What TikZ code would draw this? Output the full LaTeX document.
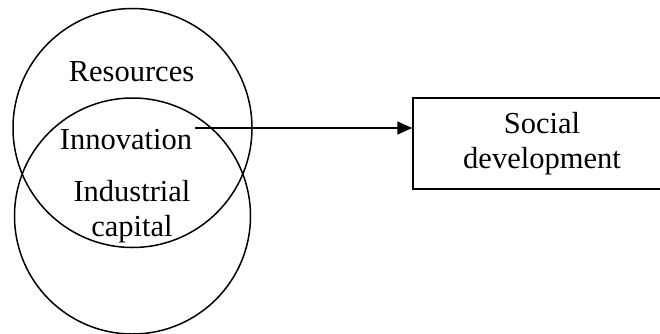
\documentclass[tikz,border=0pt]{standalone}
\usepackage{fontspec}
\setmainfont{Liberation Serif}
\usetikzlibrary{arrows.meta}

\tikzset{%
        ring/.style={
                circle,
                draw,
                line width=1.5pt
            },
        label/.style={
                align=center,
                inner sep=0pt,
                font=\fontsize{30.5pt}{35pt}\selectfont
            },
        box/.style={
                rectangle,
                draw,
                line width=1.5pt,
                align=center,
                font=\fontsize{30.5pt}{35pt}\selectfont
            }
    }

\begin{document}
\begin{tikzpicture}[x=1pt, y=1pt]
    \useasboundingbox (0,0) rectangle (660,333);
    \clip (0,0) rectangle (660,333);

    % overlapping circles:
        \node [ring, minimum size=239pt]  (up) at (132.5,205) {};
        \node [ring, minimum size=236pt]  (lo) at (132.5,117) {};

    % texts inside:
        \node [label]  (res) at (131.5,261) {Resources};
        \node [label]  (inn) at (126,193) {Innovation};
        \node [label]  (ind) at (132,121) {Industrial\\capital};

    % target:
        \node [box, minimum width=258pt, minimum height=91pt]  (sd) at (542,189.5) {Social\\development};

        \coordinate (a) at (195,205);
        \draw[line width=1.5pt, -{Triangle[length=15pt, width=13pt]}] (a) -- (a -| sd.west);
    \end{tikzpicture}
\end{document}
